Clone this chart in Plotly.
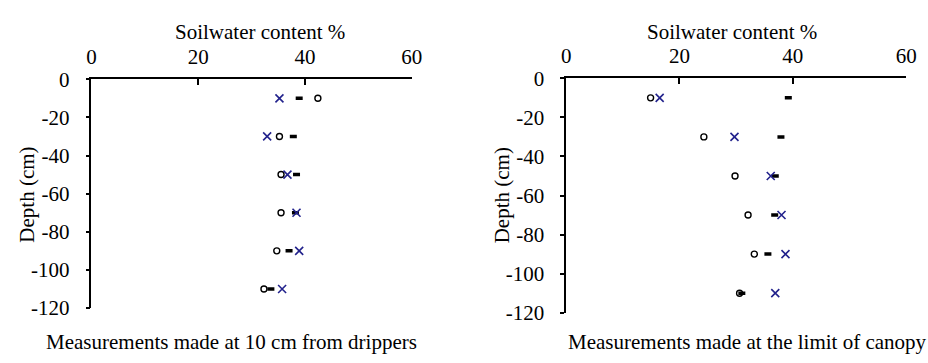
import plotly.graph_objects as go

# Depth of each measurement (cm)
depth = [-10, -30, -50, -70, -90, -110]

# Soil water content (%) measured 10 cm from the drippers
drip_circle = [42.4, 35.2, 35.5, 35.5, 34.7, 32.3]
drip_dash = [38.9, 37.8, 38.4, 38.2, 37.0, 33.6]
drip_cross = [35.2, 32.9, 36.7, 38.4, 38.9, 35.7]

# Soil water content (%) measured at the limit of the canopy
canopy_circle = [14.9, 24.3, 29.8, 32.1, 33.2, 30.6]
canopy_dash = [39.2, 37.9, 36.9, 36.8, 35.6, 31.0]
canopy_cross = [16.5, 29.7, 36.1, 38.0, 38.7, 36.9]

x_ticks = [0, 20, 40, 60]
y_ticks = [0, -20, -40, -60, -80, -100, -120]
y_tick_text = ["0", "-20", "-40", "-60", "-80", "-100", "-120"]

W, H = 928, 363
FONT = "Liberation Serif, serif"
BLUE = "#22228c"


def px_x(p):
    return p / W


def px_y(p):
    return 1 - p / H


fig = go.Figure()


def add_panel(circle, dash, cross, xa, ya):
    fig.add_trace(go.Scatter(
        x=dash, y=depth, mode="markers", xaxis=xa, yaxis=ya,
        marker=dict(symbol="line-ew", size=5, line=dict(width=3.5, color="black")),
        showlegend=False))
    fig.add_trace(go.Scatter(
        x=circle, y=depth, mode="markers", xaxis=xa, yaxis=ya,
        marker=dict(symbol="circle-open", size=6, color="black",
                    line=dict(width=1.4, color="black")),
        showlegend=False))
    fig.add_trace(go.Scatter(
        x=cross, y=depth, mode="markers", xaxis=xa, yaxis=ya,
        marker=dict(symbol="x-thin", size=8, color=BLUE,
                    line=dict(width=1.6, color=BLUE)),
        showlegend=False))


add_panel(drip_circle, drip_dash, drip_cross, "x", "y")
add_panel(canopy_circle, canopy_dash, canopy_cross, "x2", "y2")

tick_font = dict(family=FONT, size=21, color="black")
xcommon = dict(range=[0, 60], side="top", tickvals=x_ticks, ticks="inside",
               ticklen=6, tickwidth=1.5, tickcolor="black", showline=True,
               linecolor="black", linewidth=1.5, showgrid=False, zeroline=False,
               tickfont=tick_font, ticklabelstandoff=5, fixedrange=True)
ycommon = dict(range=[-120, 0], tickvals=y_ticks, ticktext=y_tick_text,
               ticks="outside", ticklen=4, tickwidth=1.5, tickcolor="black",
               showline=True, linecolor="black", linewidth=1.5, showgrid=False,
               zeroline=False, tickfont=tick_font, ticklabelstandoff=12,
               fixedrange=True)

fig.update_layout(
    width=W, height=H,
    margin=dict(l=0, r=0, t=0, b=0),
    font=dict(family=FONT, color="black"),
    paper_bgcolor="white", plot_bgcolor="white",
    xaxis=dict(xcommon, domain=[px_x(88), px_x(414)], anchor="y"),
    yaxis=dict(ycommon, domain=[px_y(317), px_y(72)], anchor="x"),
    xaxis2=dict(xcommon, domain=[px_x(571), px_x(917)], anchor="y2"),
    yaxis2=dict(ycommon, domain=[px_y(322), px_y(71)], anchor="x2"),
)

title_font = dict(family=FONT, size=21, color="black")
annotations = [
    dict(text="Soilwater content %", x=px_x(259), y=px_y(21)),
    dict(text="Soilwater content %", x=px_x(740), y=px_y(21)),
    dict(text="Depth (cm)", x=px_x(22), y=px_y(196), textangle=-90),
    dict(text="Depth (cm)", x=px_x(506), y=px_y(196), textangle=-90),
    dict(text="Measurements made at 10 cm from drippers", x=px_x(230), y=px_y(353)),
    dict(text="Measurements made at the limit of canopy", x=px_x(571), y=px_y(353),
         xanchor="left"),
]
for a in annotations:
    base = dict(xref="paper", yref="paper", showarrow=False, font=title_font,
                xanchor="center", yanchor="middle")
    base.update(a)
    fig.add_annotation(**base)

fig.write_html("out.html")
